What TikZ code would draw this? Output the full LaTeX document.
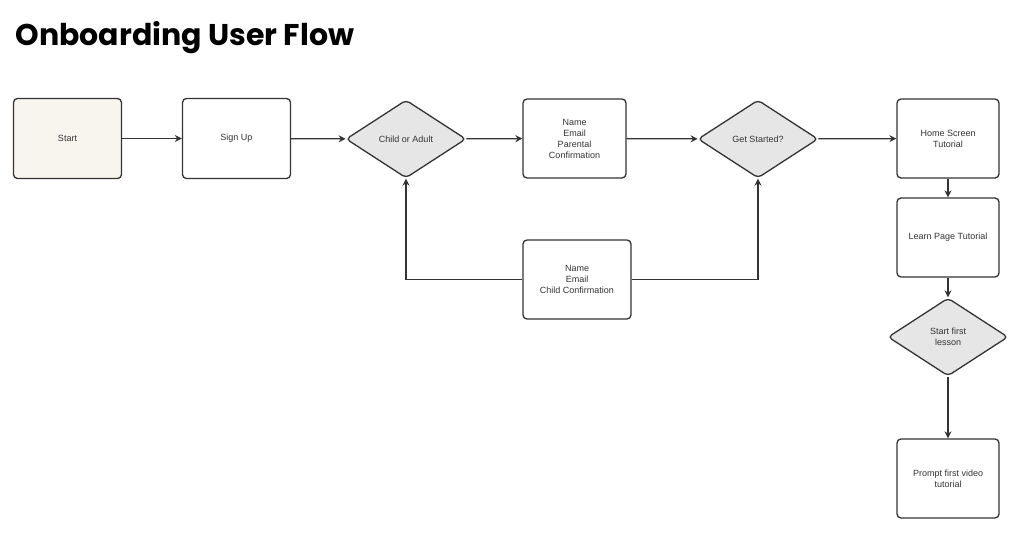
\documentclass[tikz,border=0pt]{standalone}
\usepackage{fontspec}
\setmainfont{Liberation Sans}
\newfontfamily\titlefont{Poppins}
\usetikzlibrary{shapes.geometric,arrows.meta}
\definecolor{beige}{HTML}{F8F4EE}
\definecolor{dgray}{HTML}{E6E6E6}
\definecolor{ln}{HTML}{333333}
\begin{document}
\begin{tikzpicture}[x=1pt,y=-1pt,
  box/.style={draw=ln,line width=1.3pt,rounded corners=4pt,fill=white,minimum width=#1,align=center,font=\fontsize{9}{11}\selectfont,text=ln},
  box/.default=108pt,
  dia/.style={draw=ln,line width=1.3pt,diamond,rounded corners=4pt,fill=dgray,minimum width=120pt,minimum height=78pt,aspect=1.54,inner sep=0pt,align=center,font=\fontsize{9}{11}\selectfont,text=ln},
  arr/.style={draw=ln,line width=1.3pt,-{Stealth[length=7pt,width=7pt]}}]
\useasboundingbox (0,0) rectangle (1024,552);
\node[anchor=west,font=\titlefont\fontsize{30}{34}\selectfont\bfseries,text=black] (title) at (12,38) {Onboarding User Flow};
\node[box,fill=beige,minimum height=80pt] (start) at (67.5,138.5) {Start};
\node[box,minimum height=80pt] (signup) at (236.5,138.5) {Sign Up};
\node[dia] (child) at (406,139) {Child or Adult};
\node[box=103pt,minimum height=79pt] (parent) at (574.5,138.5) {Name\\Email\\Parental\\Confirmation};
\node[dia] (get) at (758,139) {Get Started?};
\node[box=102pt,minimum height=79pt] (home) at (948,138.5) {Home Screen\\Tutorial};
\node[box=102pt,minimum height=79pt] (learn) at (948,237.5) {Learn Page Tutorial};
\node[dia] (lesson) at (948,337) {Start first\\lesson};
\node[box=102pt,minimum height=79pt] (prompt) at (948,478.5) {Prompt first video\\tutorial};
\node[box=108pt,minimum height=79pt] (cconf) at (577,279.5) {Name\\Email\\Child Confirmation};
\draw[arr] (start) -- (signup);
\draw[arr] (signup) -- (child);
\draw[arr] (child) -- (parent);
\draw[arr] (parent) -- (get);
\draw[arr] (get) -- (home);
\draw[arr] (home) -- (learn);
\draw[arr] (learn) -- (lesson);
\draw[arr] (lesson) -- (prompt);
\draw[arr] (cconf.west) -| (child.south);
\draw[arr] (cconf.east) -| (get.south);
\end{tikzpicture}
\end{document}
